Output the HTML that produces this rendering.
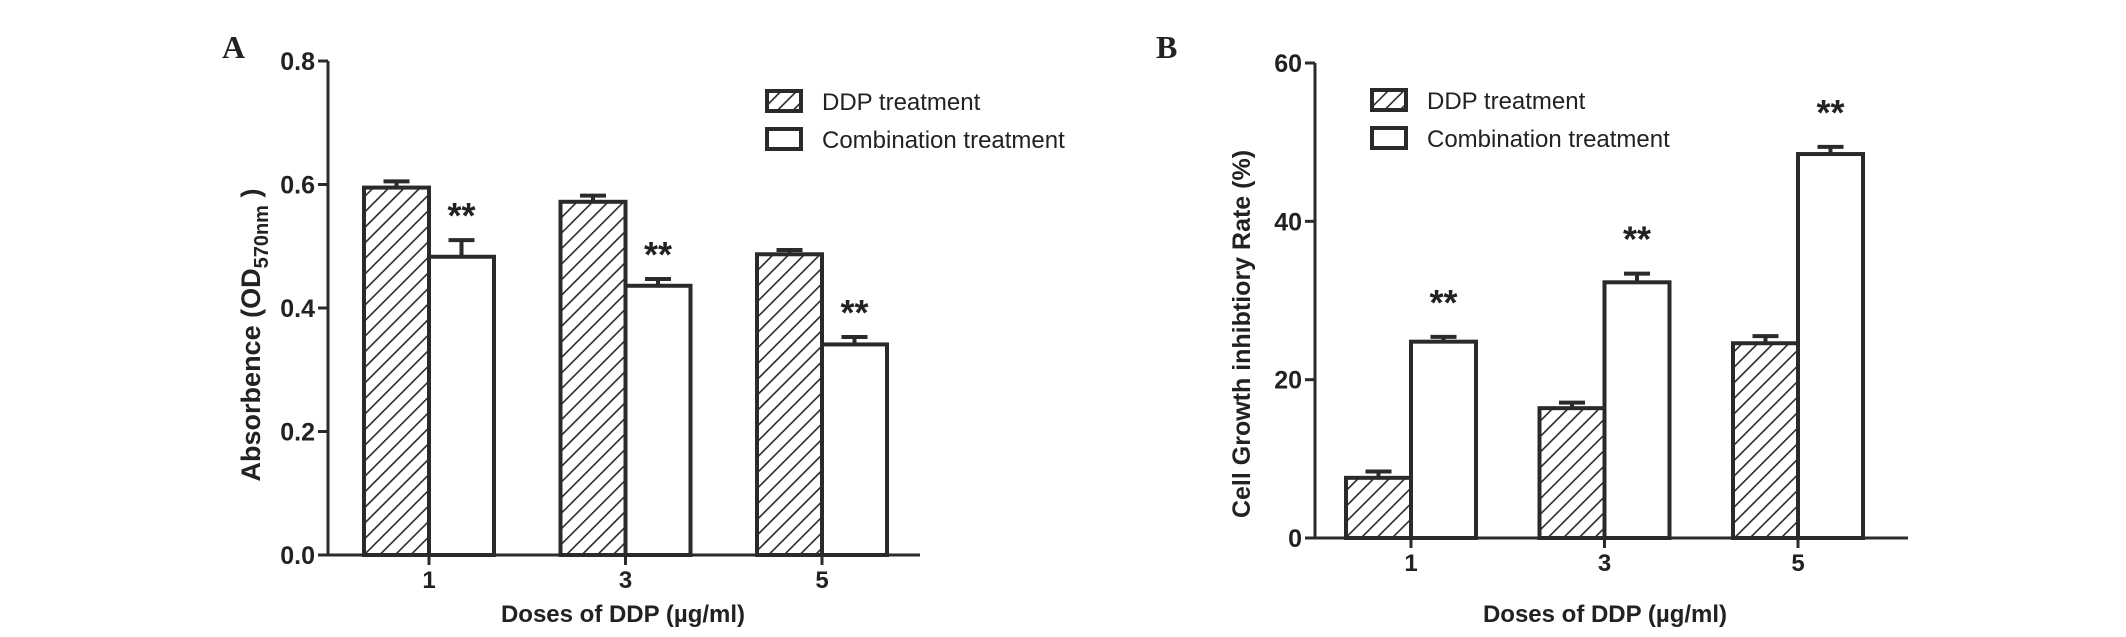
<!DOCTYPE html>
<html><head><meta charset="utf-8"><style>
html,body{margin:0;padding:0;background:#fff;}
svg{display:block;}
text{font-family:"Liberation Sans",Arial,sans-serif;fill:#222;}
</style></head><body>
<svg id="svg" width="2126" height="637" viewBox="0 0 2126 637" xmlns="http://www.w3.org/2000/svg">
<defs>
<pattern id="hatch" patternUnits="userSpaceOnUse" width="11" height="11" patternTransform="rotate(45)">
<rect width="11" height="11" fill="#fff"/>
<line x1="0" y1="0" x2="0" y2="11" stroke="#2a2a2a" stroke-width="3.2"/>
</pattern>
</defs>
<g id="panelA"></g>
<g id="panelB"></g>
</svg>
<script>
const categories = ["1","3","5"];
const aDDP = [0.595, 0.572, 0.487];
const aDDPErr = [0.010, 0.010, 0.007];
const aComb = [0.483, 0.436, 0.341];
const aCombErr = [0.027, 0.011, 0.012];
const aTicks = [0.0, 0.2, 0.4, 0.6, 0.8];
const aTickLabels = ["0.0","0.2","0.4","0.6","0.8"];
const bDDP = [7.6, 16.4, 24.6];
const bDDPErr = [0.8, 0.7, 0.9];
const bComb = [24.8, 32.3, 48.5];
const bCombErr = [0.6, 1.1, 0.9];
const bTicks = [0, 20, 40, 60];
const bTickLabels = ["0","20","40","60"];

const NS = "http://www.w3.org/2000/svg";
function mk(parent, tag, attrs, txt){
  const e = document.createElementNS(NS, tag);
  for (const k in attrs) e.setAttribute(k, attrs[k]);
  if (txt !== undefined) e.textContent = txt;
  parent.appendChild(e);
  return e;
}

function drawPanel(g, cfg){
  const y = v => cfg.y0 - (v - cfg.min) / (cfg.max - cfg.min) * (cfg.y0 - cfg.yTop);
  const x = i => cfg.xFirst + i * cfg.step;
  let t = mk(g,"text",{x:cfg.letterX,y:cfg.letterY,"font-size":32,"font-weight":"bold",style:"font-family:'Liberation Serif',serif"},cfg.letter);
  
  
  for (let i=0;i<categories.length;i++){
    const cx = x(i);
    const series = [[cfg.ddp[i],cfg.ddpErr[i],"url(#hatch)",cx-cfg.bw,"ddp"],[cfg.comb[i],cfg.combErr[i],"#fff",cx,"comb"]];
    for (const s of series){
      const [v,er,fill,bx,nm] = s;
      const top = y(v), hi = y(v+er), mid = bx + cfg.bw/2;
      let l = mk(g,"line",{x1:mid,y1:top,x2:mid,y2:hi,stroke:"#2a2a2a","stroke-width":4});
      
      
      let c = mk(g,"line",{x1:mid-13,y1:hi,x2:mid+13,y2:hi,stroke:"#2a2a2a","stroke-width":4});
      
      
      let r = mk(g,"rect",{x:bx,y:top,width:cfg.bw,height:cfg.y0-top,fill:fill,stroke:"#2a2a2a","stroke-width":4});
      
      
      if (nm==="comb"){
        let st = mk(g,"text",{x:mid,y:hi-cfg.starGap,"font-size":36,"font-weight":"bold","text-anchor":"middle"},"**");
        
        
      }
    }
    let tk = mk(g,"line",{x1:cx,y1:cfg.y0,x2:cx,y2:cfg.y0+10,stroke:"#2a2a2a","stroke-width":3});
    
    
    let tl = mk(g,"text",{x:cx,y:cfg.y0+33,"font-size":24,"font-weight":"bold","text-anchor":"middle"},categories[i]);
    
    
  }
  let ya = mk(g,"line",{x1:cfg.ax,y1:cfg.yTop,x2:cfg.ax,y2:cfg.y0+1.5,stroke:"#2a2a2a","stroke-width":3});
  
  
  let xa = mk(g,"line",{x1:cfg.ax-10,y1:cfg.y0,x2:cfg.axEnd,y2:cfg.y0,stroke:"#2a2a2a","stroke-width":3});
  
  
  for (let j=0;j<cfg.ticks.length;j++){
    const ty = y(cfg.ticks[j]);
    let tk = mk(g,"line",{x1:cfg.ax-10,y1:ty,x2:cfg.ax,y2:ty,stroke:"#2a2a2a","stroke-width":3});
    
    
    let tl = mk(g,"text",{x:cfg.ax-13,y:ty+9,"font-size":25,"font-weight":"bold","text-anchor":"end"},cfg.tickLabels[j]);
    
    
  }
  let xt = mk(g,"text",{x:cfg.xTitleX,y:622,"font-size":24,"font-weight":"bold","text-anchor":"middle"},"Doses of DDP (µg/ml)");
  
  
  let yt = mk(g,"text",{x:0,y:0,"font-size":cfg.yFont,"font-weight":"bold","text-anchor":"middle",transform:"translate("+cfg.yTitleX+","+cfg.yTitleY+") rotate(-90)"});
  
  
  if (cfg.sub){
    mk(yt,"tspan",{},"Absorbence (OD");
    mk(yt,"tspan",{"font-size":20,dy:8},"570nm");
    mk(yt,"tspan",{dy:-8},"  )");
  } else { yt.textContent = cfg.yTitle; }
  const L = [["url(#hatch)","DDP treatment"],["#fff","Combination treatment"]];
  for (let k=0;k<2;k++){
    const ly = cfg.legY + k*38;
    let lb = mk(g,"rect",{x:cfg.legX,y:ly,width:34,height:20,fill:L[k][0],stroke:"#2a2a2a","stroke-width":4});
    
    
    let lt = mk(g,"text",{x:cfg.legX+55,y:ly+19,"font-size":24},L[k][1]);
    
    
  }
}

drawPanel(document.getElementById('panelA'),{
  letter:"A",letterX:222,letterY:58,min:0,max:0.8,y0:555,yTop:61,ax:328,axEnd:920,
  xFirst:429,step:196.5,bw:65,ddp:aDDP,ddpErr:aDDPErr,comb:aComb,combErr:aCombErr,
  ticks:aTicks,tickLabels:aTickLabels,starGap:12,xTitleX:623,yTitleX:260,yTitleY:335,sub:true,yFont:27,
  legX:767,legY:91
});
drawPanel(document.getElementById('panelB'),{
  letter:"B",letterX:1156,letterY:58,min:0,max:60,y0:538,yTop:63,ax:1315,axEnd:1908,
  xFirst:1411,step:193.5,bw:65,ddp:bDDP,ddpErr:bDDPErr,comb:bComb,combErr:bCombErr,
  ticks:bTicks,tickLabels:bTickLabels,starGap:22,xTitleX:1605,yTitleX:1250,yTitleY:334,yFont:25,
  yTitle:"Cell Growth inhibtiory Rate (%)",legX:1372,legY:90
});
</script>
</body></html>
